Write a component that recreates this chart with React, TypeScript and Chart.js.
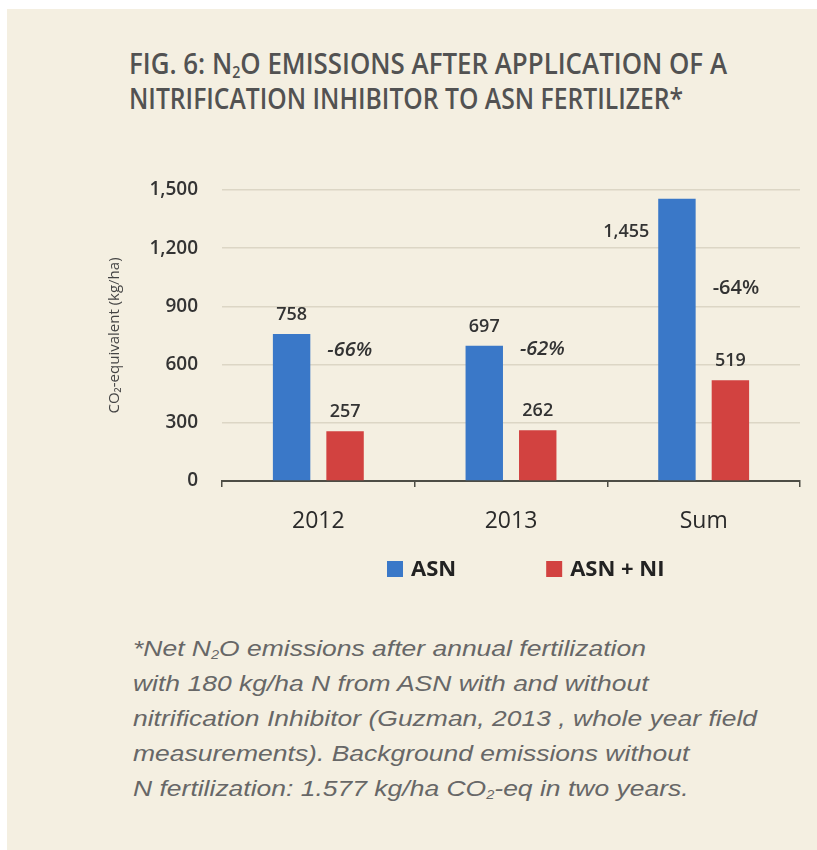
import React, { useEffect, useLayoutEffect, useRef } from 'react';
import { Chart, registerables } from 'chart.js';

Chart.register(...registerables);

// ---- data ----
const categories = ['2012', '2013', 'Sum'];
const asnValues = [758, 697, 1455];
const asnNiValues = [257, 262, 519];
const seriesLabels = ['ASN', 'ASN + NI'];
const yTickValues = [0, 300, 600, 900, 1200, 1500];
// value level (in kg/ha) at which each reduction label sits
const reductionLabelLevels = [675, 680, 995];

// ---- styles ----
const BLUE = '#3a78c8';
const RED = '#d24240';
const CREAM = '#f4efe1';
const AXIS = '#4d4d45';
const GRID = '#dcd6c5';
const FONT = '"Open Sans", "Noto Sans", sans-serif';

function FitText({ width, children }: { width: number; children: React.ReactNode }) {
  const ref = useRef<HTMLSpanElement>(null);
  useLayoutEffect(() => {
    const el = ref.current;
    if (!el) return;
    el.style.transform = 'none';
    const w = el.getBoundingClientRect().width;
    if (w > 0) el.style.transform = `scaleX(${width / w})`;
  });
  return (
    <span ref={ref} style={{ display: 'inline-block', whiteSpace: 'nowrap', transformOrigin: '0 0' }}>
      {children}
    </span>
  );
}

const subStyle: React.CSSProperties = { fontSize: '0.55em', verticalAlign: '-0.25em', lineHeight: 0 };

function Footnote() {
  const boxRef = useRef<HTMLDivElement>(null);
  const refLine = useRef<HTMLSpanElement>(null);
  useLayoutEffect(() => {
    const box = boxRef.current;
    const line = refLine.current;
    if (!box || !line) return;
    box.style.transform = 'none';
    const w = line.getBoundingClientRect().width;
    if (w > 0) box.style.transform = `scaleX(${624 / w})`;
  });
  const lineStyle: React.CSSProperties = { whiteSpace: 'nowrap' };
  return (
    <div
      ref={boxRef}
      style={{
        position: 'absolute',
        left: 133,
        top: 631,
        fontFamily: '"Liberation Sans", Arial, sans-serif',
        fontStyle: 'italic',
        fontSize: 22,
        lineHeight: '35px',
        color: '#676767',
        transformOrigin: '0 0',
      }}
    >
      <div style={lineStyle}>
        <span>
          *Net N<sub style={subStyle}>2</sub>O emissions after annual fertilization
        </span>
      </div>
      <div style={lineStyle}>
        <span>with 180 kg/ha N from ASN with and without</span>
      </div>
      <div style={lineStyle}>
        <span ref={refLine}>nitrification Inhibitor (Guzman, 2013 , whole year field</span>
      </div>
      <div style={lineStyle}>
        <span>measurements). Background emissions without</span>
      </div>
      <div style={lineStyle}>
        <span>
          N fertilization: 1.577 kg/ha CO<sub style={subStyle}>2</sub>-eq in two years.
        </span>
      </div>
    </div>
  );
}

const labelPlugin = {
  id: 'barAnnotations',
  afterDatasetsDraw(chart: any) {
    const ctx: CanvasRenderingContext2D = chart.ctx;
    const area = chart.chartArea;
    const yScale = chart.scales.y;
    const metas = [chart.getDatasetMeta(0), chart.getDatasetMeta(1)];
    ctx.save();
    ctx.fillStyle = '#333333';
    ctx.textAlign = 'center';
    ctx.textBaseline = 'middle';
    ctx.font = `600 18px ${FONT}`;
    metas.forEach((meta: any, di: number) => {
      meta.data.forEach((bar: any, i: number) => {
        const v = chart.data.datasets[di].data[i] as number;
        const txt = v.toLocaleString('en-US');
        const { x, y, width } = bar.getProps(['x', 'y', 'width'], true);
        if (y - 30 < area.top) {
          ctx.fillText(txt, x - width / 2 - 32, y + 33);
        } else {
          ctx.fillText(txt, x, y - 19);
        }
      });
    });
    // reduction labels
    ctx.textAlign = 'left';
    metas[0].data.forEach((bar: any, i: number) => {
      const pct = Math.round(((asnNiValues[i] - asnValues[i]) / asnValues[i]) * 100);
      const { x, width } = bar.getProps(['x', 'width'], true);
      ctx.font = `${i < 2 ? 'italic ' : ''}600 20px ${FONT}`;
      ctx.fillText(`${pct}%`, x + width / 2 + 17, yScale.getPixelForValue(reductionLabelLevels[i]));
    });
    // legend
    const ly = 419;
    let lx = area.left + 165;
    ctx.font = `700 22px ${FONT}`;
    chart.data.datasets.forEach((ds: any) => {
      ctx.fillStyle = ds.backgroundColor;
      ctx.fillRect(lx, ly - 8, 16, 16);
      ctx.fillStyle = '#222222';
      ctx.fillText(ds.label, lx + 24, ly + 1);
      lx += 24 + ctx.measureText(ds.label).width + 90;
    });
    ctx.restore();
  },
};

export default function App() {
  const canvasRef = useRef<HTMLCanvasElement>(null);

  useEffect(() => {
    const canvas = canvasRef.current;
    if (!canvas) return;
    const chart = new Chart(canvas, {
      type: 'bar',
      data: {
        labels: categories,
        datasets: [
          {
            label: seriesLabels[0],
            data: asnValues,
            backgroundColor: BLUE,
            categoryPercentage: 0.555,
            barPercentage: 0.7,
          },
          {
            label: seriesLabels[1],
            data: asnNiValues,
            backgroundColor: RED,
            categoryPercentage: 0.555,
            barPercentage: 0.7,
          },
        ],
      },
      options: {
        responsive: false,
        animation: false,
        devicePixelRatio: 1,
        layout: { padding: { left: 0, right: 17, top: 40, bottom: 0 } },
        plugins: {
          legend: { display: false },
          tooltip: { enabled: false },
          title: { display: false },
        },
        scales: {
          x: {
            grid: {
              display: true,
              drawOnChartArea: false,
              drawTicks: true,
              tickLength: 6,
              color: AXIS,
              lineWidth: 1.5,
              offset: true,
            },
            border: { display: true, color: AXIS, width: 2 },
            ticks: {
              color: '#2a2a2a',
              font: { family: FONT, size: 23, weight: '500' },
              padding: 21,
            },
            afterFit: (s: any) => {
              s.height = 119;
            },
          },
          y: {
            min: 0,
            max: 1500,
            afterBuildTicks: (s: any) => {
              s.ticks = yTickValues.map((v) => ({ value: v }));
            },
            grid: { color: GRID, lineWidth: 1.5, drawTicks: false },
            border: { display: false },
            ticks: {
              color: '#333333',
              font: { family: FONT, size: 19, weight: '600' },
              padding: 24,
              callback: (v: any) => Number(v).toLocaleString('en-US'),
            },
            title: {
              display: true,
              text: 'CO₂-equivalent (kg/ha)',
              color: '#444444',
              font: { family: FONT, size: 15 },
              padding: { top: 106, bottom: 0 },
            },
            afterFit: (s: any) => {
              s.width = 222;
            },
          },
        },
      },
      plugins: [labelPlugin],
    } as any);
    return () => chart.destroy();
  }, []);

  return (
    <div
      style={{
        position: 'absolute',
        left: 0,
        top: 0,
        width: 817,
        height: 850,
        background: '#ffffff',
        overflow: 'hidden',
      }}
    >
      <div style={{ position: 'absolute', left: 7, top: 9, right: 0, bottom: 0, background: CREAM }} />
      <div
        style={{
          position: 'absolute',
          left: 129,
          top: 46,
          fontFamily: FONT,
          fontSize: 28,
          fontWeight: 600,
          color: '#525252',
          lineHeight: '35px',
        }}
      >
        <div>
          <FitText width={598}>
            FIG. 6: N<sub style={subStyle}>2</sub>O EMISSIONS AFTER APPLICATION OF A
          </FitText>
        </div>
        <div>
          <FitText width={554}>NITRIFICATION INHIBITOR TO ASN FERTILIZER*</FitText>
        </div>
      </div>
      <canvas
        ref={canvasRef}
        width={817}
        height={450}
        style={{ position: 'absolute', left: 0, top: 150, width: 817, height: 450, display: 'block' }}
      />
      <Footnote />
    </div>
  );
}
